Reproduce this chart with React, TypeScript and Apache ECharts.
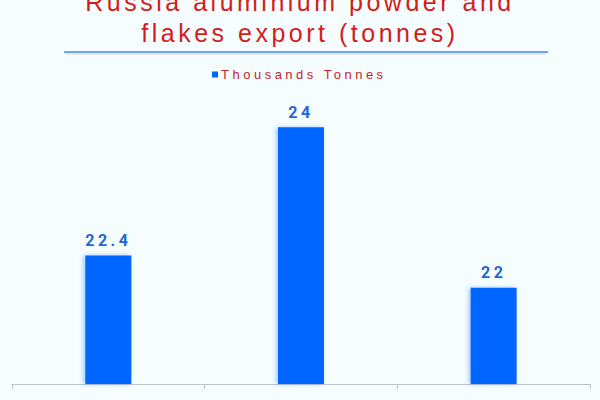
import * as echarts from "echarts";
import { useEffect, useRef } from "react";

const categories = ["2019", "2020", "2021"];
const exportValues = [22.4, 24, 22];
const seriesName = "Thousands Tonnes";
const titleText = "Russia aluminium powder and\nflakes export (tonnes)";

export default function App() {
  const chartRef = useRef<HTMLDivElement>(null);

  useEffect(() => {
    document.body.style.margin = "0";
    if (!chartRef.current) return;

    const chart = echarts.init(chartRef.current, null, { renderer: "svg" });

    chart.setOption({
      animation: false,
      backgroundColor: "#f5fdfe",
      title: {
        text: titleText,
        left: "center",
        top: -19,
        textStyle: {
          color: "#d41c1c",
          fontSize: 25,
          fontWeight: "normal",
          fontFamily: "Liberation Sans",
          lineHeight: 31
        }
      },
      legend: {
        left: 207,
        top: 63,
        itemWidth: 6,
        itemHeight: 6,
        itemGap: 10,
        icon: "rect",
        textStyle: {
          color: "#c0262b",
          fontSize: 13,
          fontFamily: "Liberation Sans",
          padding: [0, 0, 0, -2]
        }
      },
      graphic: {
        elements: [
          {
            type: "line",
            z: 100,
            shape: { x1: 64, y1: 52, x2: 548, y2: 52 },
            style: {
              stroke: "#4a86d8",
              lineWidth: 1.5
            }
          },
          {
            type: "line",
            z: 99,
            shape: { x1: 66, y1: 54, x2: 546, y2: 54 },
            style: {
              stroke: "rgba(0,0,0,0.08)",
              lineWidth: 2
            }
          }
        ]
      },
      grid: {
        left: 12,
        right: 10,
        top: 47,
        bottom: 16
      },
      xAxis: {
        type: "category",
        data: categories,
        axisLine: { show: true, lineStyle: { color: "#bcc4c8" } },
        axisTick: {
          show: true,
          interval: 0,
          alignWithLabel: false,
          length: 5,
          lineStyle: { color: "#bcc4c8" }
        },
        axisLabel: { show: false }
      },
      yAxis: {
        type: "value",
        min: 20.8,
        max: 25,
        show: false,
        splitLine: { show: false }
      },
      series: [
        {
          name: seriesName,
          type: "bar",
          data: exportValues,
          barWidth: 46,
          itemStyle: {
            color: "#0066ff",
            shadowColor: "rgba(0,102,255,0.35)",
            shadowBlur: 4,
            shadowOffsetX: -2
          },
          label: {
            show: true,
            position: "top",
            distance: 7,
            color: "#1f66d6",
            fontSize: 16,
            fontWeight: "bold",
            fontFamily: "Roboto"
          }
        }
      ]
    });

    return () => {
      chart.dispose();
    };
  }, []);

  return (
    <div
      ref={chartRef}
      style={{ width: 600, height: 400, letterSpacing: "3.5px" }}
    />
  );
}
